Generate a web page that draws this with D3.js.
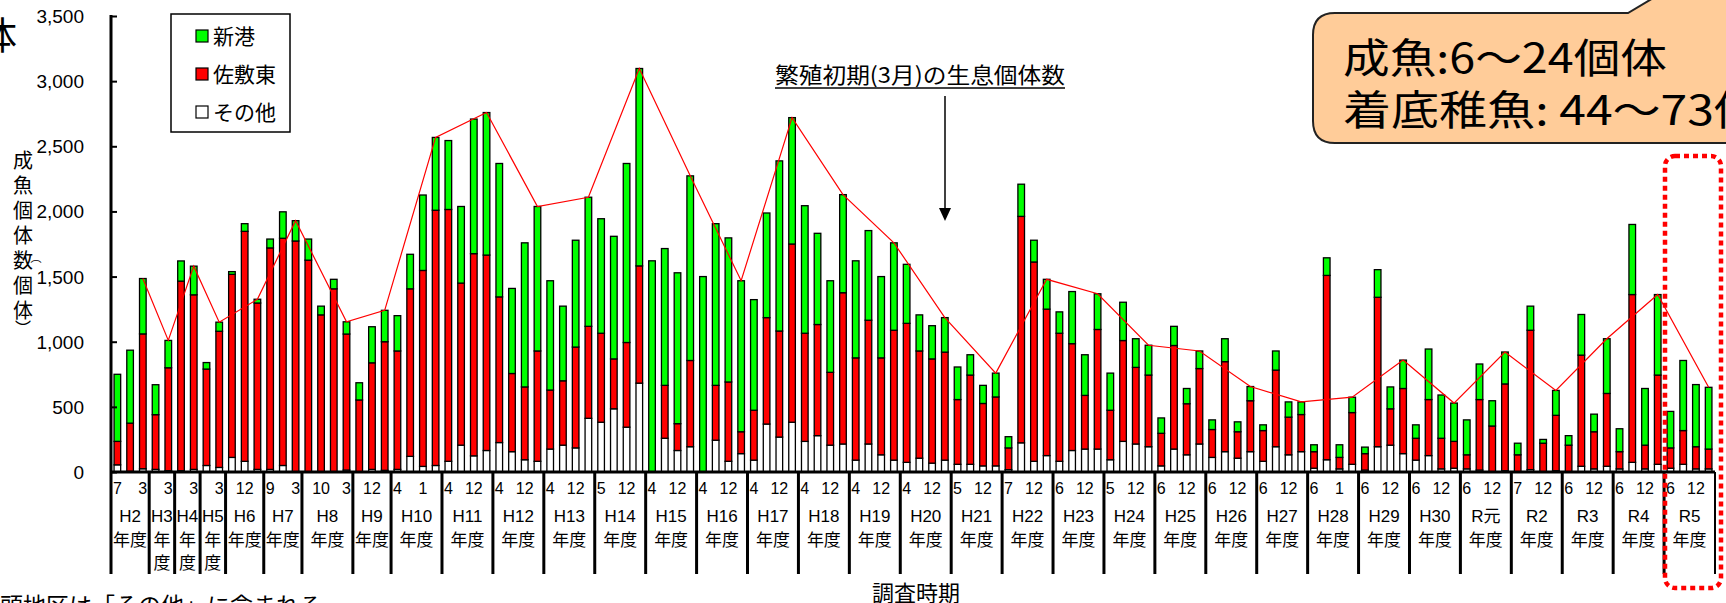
<!DOCTYPE html>
<html><head><meta charset="utf-8">
<script src="https://cdn.jsdelivr.net/npm/d3@7"></script>
<style>body{margin:0;background:#fff;}svg{display:block;}</style>
</head><body><svg id="c" width="1726" height="603"></svg>
<script>
// ---------- DATA ----------
const fiscalYears = ["H2","H3","H4","H5","H6","H7","H8","H9","H10","H11","H12","H13","H14","H15","H16","H17","H18","H19","H20","H21","H22","H23","H24","H25","H26","H27","H28","H29","H30","R元","R2","R3","R4","R5"];
const groupSizes = [3,2,2,2,3,3,4,3,4,4,4,4,4,4,4,4,4,4,4,4,4,4,4,4,4,4,4,4,4,4,4,4,4,4];
const wrappedYears = ["H3","H4","H5"];
const monthLabels = [
 "7","","3", "","3", "","3", "","3", "","12","", "9","","3", "","10","","3", "","12","", "4","","1","",
 "4","","12","", "4","","12","", "4","","12","", "5","","12","", "4","","12","", "4","","12","",
 "4","","12","", "4","","12","", "4","","12","", "4","","12","", "5","","12","", "7","","12","",
 "6","","12","", "5","","12","", "6","","12","", "6","","12","", "6","","12","", "6","","1","",
 "6","","12","", "6","","12","", "6","","12","", "7","","12","", "6","","12","", "6","","12","", "6","","12",""];
const others = [55,5,25,20,10,10,20,50,35,112,82,20,20,50,3,0,0,0,15,0,20,13,20,120,43,50,
 82,206,124,165,226,156,94,82,176,206,185,412,382,485,344,682,0,259,
 165,194,0,244,82,141,91,368,268,382,235,279,206,215,91,215,132,91,
 74,106,68,91,59,59,47,47,18,224,82,126,82,165,176,176,94,235,
 215,194,47,176,132,215,112,156,106,156,82,194,132,156,29,94,24,59,
 15,194,206,141,91,126,24,29,24,15,0,10,0,18,0,10,0,44,
 24,44,24,74,24,59,29,59,24,24];
const sashikiHigashi = [180,370,1035,420,790,1455,1340,740,1045,1405,1765,1277,1700,1744,1770,1626,1206,1406,1044,553,818,987,909,1286,1504,1959,
 1933,1244,1552,1500,1118,600,559,847,453,494,774,706,683,383,650,900,0,406,
 206,662,0,421,609,168,383,817,814,1368,830,853,559,1161,785,950,744,997,
 1067,823,800,829,497,685,479,529,167,1738,1530,1124,983,820,412,918,380,774,
 588,550,250,795,392,579,214,691,203,391,236,588,289,285,127,1415,88,397,
 126,1147,279,500,168,430,235,206,108,541,353,666,132,1070,221,425,206,853,
 285,559,132,1288,182,685,156,259,170,152];
const shinko = [515,560,425,230,210,155,220,50,70,21,59,29,68,203,156,162,67,73,94,132,277,241,271,265,579,559,
 529,588,1033,1094,1024,653,1106,1109,839,573,820,991,879,941,1374,1515,1621,1050,
 1158,1417,1500,1241,1106,1159,849,803,1306,970,979,700,703,753,745,688,624,671,
 453,277,255,265,250,156,139,183,86,247,167,229,164,400,312,274,285,294,
 220,229,118,147,117,135,74,176,76,109,44,147,117,97,53,135,97,118,
 50,212,168,218,103,388,332,294,268,273,194,245,89,185,29,191,73,312,
 135,420,176,538,435,618,280,538,477,474];
const marchIdx = [2,4,6,8,11,14,18,21,25,29,33,37,41,45,49,53,57,61,65,69,73,77,81,85,89,93,97,101,105,109,113,117,121,125];
const yTicks = [0,500,1000,1500,2000,2500,3000,3500];
const seriesKeys = ["その他","佐敷東","新港"];
const seriesColors = {"新港":"#00FF00","佐敷東":"#FF0000","その他":"#FFFFFF"};
const legendOrder = ["新港","佐敷東","その他"];

// ---------- BUILD ----------
const JP = "'Noto Sans CJK JP','Noto Sans',sans-serif";
const LAT = "'Liberation Sans',Arial,sans-serif";
const svg = d3.select("#c");
const X0 = 111, X1 = 1715, Y0 = 472, Y1 = 16, AXB = 574;

const categories = [];
fiscalYears.forEach((fy,g)=>{ for(let k=0;k<groupSizes[g];k++) categories.push(fy+"-"+k); });
const table = categories.map((c,i)=>({cat:c, "その他":others[i], "佐敷東":sashikiHigashi[i], "新港":shinko[i]}));

const x = d3.scaleBand().domain(categories).range([X0,X1]).paddingInner(0.48).paddingOuter(0.24);
const slot = (X1-X0)/categories.length;
const y = d3.scaleLinear().domain([0,3500]).range([Y0,Y1]);

const stack = d3.stack().keys(seriesKeys)(table);
const gBars = svg.append("g");
stack.forEach(s=>{
  gBars.selectAll(null).data(s.filter(d=>d[1]-d[0]>0)).join("rect")
    .attr("x",d=>x(d.data.cat)).attr("width",x.bandwidth())
    .attr("y",d=>y(d[1])).attr("height",d=>y(d[0])-y(d[1]))
    .attr("fill",seriesColors[s.key]).attr("stroke","#000").attr("stroke-width",1.3);
});

// March line
const totals = table.map(d=>d["その他"]+d["佐敷東"]+d["新港"]);
svg.append("path").datum(marchIdx)
  .attr("fill","none").attr("stroke","#FF0000").attr("stroke-width",1.2)
  .attr("d",d3.line().x(i=>x(categories[i])+x.bandwidth()/2).y(i=>y(totals[i])));

// Y axis
const yAxis = d3.axisRight(y).tickValues(yTicks).tickSize(6).tickFormat("");
const ya = svg.append("g").attr("transform",`translate(${X0},0)`).call(yAxis);
ya.select(".domain").remove();
ya.selectAll("line").attr("stroke","#000").attr("stroke-width",2);
svg.append("line").attr("x1",X0).attr("x2",X0).attr("y1",Y1-1).attr("y2",AXB).attr("stroke","#000").attr("stroke-width",3);
svg.selectAll(".ytl").data(yTicks).join("text")
  .attr("x",84).attr("y",d=>y(d)+7).attr("text-anchor","end")
  .style("font-family",LAT).style("font-size","19px").text(d3.format(","));

// X axis baseline
svg.append("line").attr("x1",X0).attr("x2",X1).attr("y1",Y0).attr("y2",Y0).attr("stroke","#000").attr("stroke-width",3);

// group separators & labels
let cum = 0;
fiscalYears.forEach((fy,g)=>{
  const start = X0 + cum*slot; cum += groupSizes[g]; const end = X0 + cum*slot;
  svg.append("line").attr("x1",end).attr("x2",end).attr("y1",Y0).attr("y2",AXB)
    .attr("stroke","#000").attr("stroke-width",g===fiscalYears.length-1?2:3);
  const cx = (start+end)/2;
  const t = svg.append("text").attr("x",cx).attr("y",522).attr("text-anchor","middle")
    .style("font-family",LAT).style("font-size","17px");
  if (fy.includes("元")) { t.append("tspan").text("R"); t.append("tspan").style("font-family",JP).text("元"); }
  else t.text(fy);
  if (wrappedYears.includes(fy)) {
    svg.append("text").attr("x",cx).attr("y",546).attr("text-anchor","middle").style("font-family",JP).style("font-size","17px").text("年");
    svg.append("text").attr("x",cx).attr("y",569).attr("text-anchor","middle").style("font-family",JP).style("font-size","17px").text("度");
  } else {
    svg.append("text").attr("x",cx).attr("y",546).attr("text-anchor","middle").style("font-family",JP).style("font-size","17px").text("年度");
  }
});
svg.selectAll(".ml").data(categories).join("text")
  .attr("x",d=>x(d)+x.bandwidth()/2).attr("y",494).attr("text-anchor","middle")
  .style("font-family",LAT).style("font-size","16px").text((d,i)=>monthLabels[i]);

// Y title (vertical)
const yTitle = [["成",168],["魚",193],["個",218],["体",243],["数",268],["個",293],["体",318]];
yTitle.forEach(([c,yy])=>svg.append("text").attr("x",23).attr("y",yy).attr("text-anchor","middle").style("font-family",JP).style("font-size","20px").text(c));
svg.append("text").attr("x",36).attr("y",262).attr("text-anchor","middle").style("font-family",JP).style("font-size","11px").text("︵");
svg.append("text").attr("x",23).attr("y",334).attr("text-anchor","middle").style("font-family",JP).style("font-size","16px").text("︶");

// top-left partial title
svg.append("text").attr("x",-21).attr("y",49).style("font-family",JP).style("font-size","38px").text("体");

// legend
const lg = svg.append("g");
lg.append("rect").attr("x",171).attr("y",14).attr("width",119).attr("height",118).attr("fill","#fff").attr("stroke","#000").attr("stroke-width",1.5);
legendOrder.forEach((k,i)=>{
  const cy = 36 + i*38;
  lg.append("rect").attr("x",196).attr("y",cy-6).attr("width",12).attr("height",12).attr("fill",seriesColors[k]).attr("stroke","#000").attr("stroke-width",1.2);
  lg.append("text").attr("x",213).attr("y",cy+8).style("font-family",JP).style("font-size","21px").text(k);
});

// annotation
svg.append("text").attr("x",775).attr("y",83).attr("textLength",290).attr("lengthAdjust","spacingAndGlyphs")
  .style("font-family",JP).style("font-size","22px").text("繁殖初期(3月)の生息個体数");
svg.append("line").attr("x1",775).attr("x2",1065).attr("y1",88).attr("y2",88).attr("stroke","#000").attr("stroke-width",1.5);
svg.append("line").attr("x1",945).attr("x2",945).attr("y1",96).attr("y2",210).attr("stroke","#000").attr("stroke-width",1.5);
svg.append("path").attr("d","M939,208 L951,208 L945,221 Z").attr("fill","#000");

// callout
svg.append("path")
  .attr("d","M1790,143 L1335,143 Q1313,143 1313,121 L1313,35 Q1313,13 1335,13 L1628,13 L1660,-6 L1790,-6 Z")
  .attr("fill","#FFCC99").attr("stroke","#222").attr("stroke-width",2);
svg.append("text").attr("x",1343).attr("y",73).attr("textLength",324).attr("lengthAdjust","spacingAndGlyphs")
  .style("font-family",JP).style("font-size","41px").text("成魚:6～24個体");
svg.append("text").attr("x",1343).attr("y",125).attr("textLength",467).attr("lengthAdjust","spacingAndGlyphs")
  .style("font-family",JP).style("font-size","41px").text("着底稚魚: 44～73個体");

// red dotted box around R5
svg.append("rect").attr("x",1665).attr("y",156).attr("width",56).attr("height",432).attr("rx",10)
  .attr("fill","none").attr("stroke","#FF0000").attr("stroke-width",4.5).attr("stroke-dasharray","5,4");

// axis title & footnote
svg.append("text").attr("x",916).attr("y",601).attr("text-anchor","middle").style("font-family",JP).style("font-size","22px").text("調査時期");
svg.append("text").attr("x",0).attr("y",614).style("font-family",JP).style("font-size","23px").text("頭地区は「その他」に含まれる");
</script></body></html>
